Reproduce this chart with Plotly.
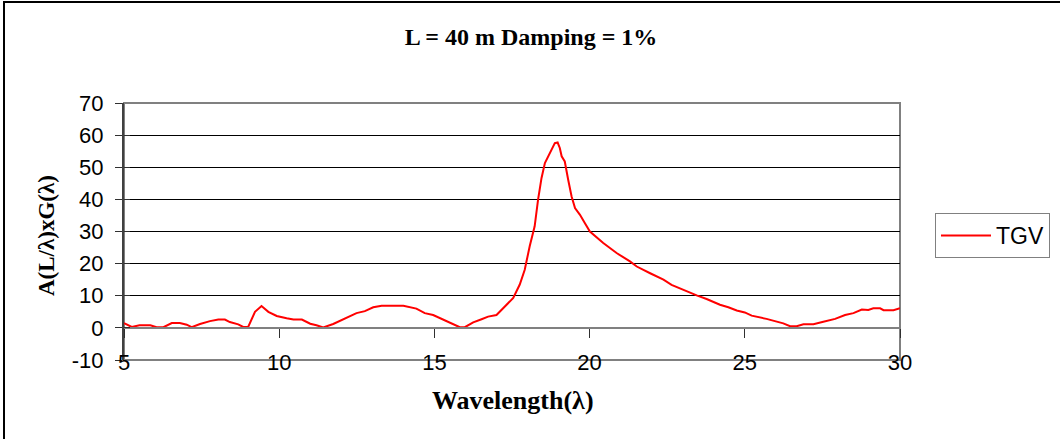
import plotly.graph_objects as go

wavelength = [5.0, 5.25, 5.5, 5.85, 6.05, 6.27, 6.54, 6.8, 7.02, 7.18, 7.45, 7.77, 8.04, 8.25, 8.41,
              8.68, 8.84, 9.0, 9.22, 9.43, 9.65, 9.92, 10.24, 10.46, 10.73, 11.0, 11.2, 11.42, 11.74,
              12.06, 12.49, 12.76, 13.03, 13.3, 14.0, 14.42, 14.69, 14.96, 15.28, 15.6, 15.82, 15.98,
              16.25, 16.52, 16.73, 17.0, 17.27, 17.54, 17.75, 17.91, 18.07, 18.23, 18.34, 18.45, 18.56,
              18.72, 18.88, 18.97, 19.04, 19.1, 19.2, 19.31, 19.42, 19.53, 19.69, 19.85, 20.01, 20.44,
              20.87, 21.3, 21.52, 21.95, 22.38, 22.64, 23.02, 23.45, 23.77, 24.2, 24.47, 24.74, 25.0,
              25.22, 25.7, 26.24, 26.46, 26.67, 26.89, 27.21, 27.53, 27.91, 28.23, 28.5, 28.77, 28.98,
              29.14, 29.36, 29.47, 29.79, 30.0]
tgv = [1.5, 0.3, 0.8, 0.8, 0.2, 0.2, 1.5, 1.5, 1.0, 0.2, 1.2, 2.1, 2.6, 2.6, 1.8,
       1.1, 0.3, 0.3, 5.0, 6.8, 5.0, 3.7, 3.0, 2.6, 2.6, 1.3, 0.8, 0.1, 1.2,
       2.7, 4.6, 5.2, 6.4, 6.9, 6.9, 6.0, 4.6, 4.0, 2.6, 1.3, 0.2, 0.2,
       1.7, 2.7, 3.5, 4.0, 6.7, 9.3, 13.5, 18.1, 25.4, 31.6, 39.9, 46.6, 51.3,
       54.4, 57.5, 57.7, 56.0, 53.4, 51.8, 46.1, 40.9, 37.3, 35.2, 32.6, 30.0, 26.4,
       23.3, 20.7, 19.1, 17.0, 15.0, 13.4, 11.8, 10.1, 9.0, 7.2, 6.4, 5.4, 4.8,
       3.8, 2.8, 1.4, 0.5, 0.5, 1.1, 1.1, 1.9, 2.8, 4.0, 4.6, 5.7, 5.6,
       6.1, 6.1, 5.5, 5.5, 6.1]

x_ticks = [5, 10, 15, 20, 25, 30]
y_ticks = [-10, 0, 10, 20, 30, 40, 50, 60, 70]
y_tick_labels = ["-10", "0", "10", "20", "30", "40", "50", "60", "70"]

title_text = "L = 40 m Damping = 1%"
x_title = "Wavelength(λ)"
y_title = "A(L/λ)xG(λ)"
series_name = "TGV"

SANS = "Liberation Sans, Arial, sans-serif"
SERIF = "Liberation Serif, Times New Roman, serif"

fig = go.Figure()
fig.add_trace(go.Scatter(x=wavelength, y=tgv, mode="lines", name=series_name,
                         line=dict(color="#FF0000", width=2)))
# invisible helper trace so the secondary axes (bottom tick labels, inner y ticks) are drawn
fig.add_trace(go.Scatter(x=[x_ticks[0], x_ticks[-1]], y=[y_ticks[0], y_ticks[-1]], xaxis="x2", yaxis="y2",
                         mode="markers", marker=dict(opacity=0, size=1),
                         showlegend=False, hoverinfo="skip"))

fig.update_layout(
    width=1060, height=439,
    margin=dict(l=124, r=160, t=103, b=79, autoexpand=False),
    paper_bgcolor="white", plot_bgcolor="white",
    title=dict(text="<b>" + title_text + "</b>", font=dict(family=SERIF, size=24, color="black"),
               x=531 / 1060, xref="container", y=1 - 37 / 439, yref="container",
               xanchor="center", yanchor="middle"),
    # main x axis: crosses at y = 0, with tick marks hanging below it
    xaxis=dict(range=[5, 30], tickvals=x_ticks, anchor="free", position=10 / 80,
               showgrid=False, zeroline=False, showline=True, linecolor="#808080", linewidth=2,
               ticks="outside", ticklen=9, tickcolor="#303030", tickwidth=1,
               showticklabels=False),
    # secondary x axis at the bottom: tick labels only
    xaxis2=dict(overlaying="x", matches="x", anchor="y", side="bottom",
                tickvals=x_ticks, ticktext=[str(v) for v in x_ticks],
                showgrid=False, zeroline=False, showline=False, ticks="",
                ticklabelstandoff=-13, tickfont=dict(family=SANS, size=22, color="black")),
    yaxis=dict(range=[-10, 70], tickvals=y_ticks, ticktext=y_tick_labels,
               showgrid=True, gridcolor="black", gridwidth=1, zeroline=False,
               showline=True, linecolor="#404040", linewidth=2,
               ticks="outside", ticklen=7, tickcolor="#303030", ticklabelstandoff=7,
               tickfont=dict(family=SANS, size=22, color="black")),
    # inner half of the crossing y tick marks
    yaxis2=dict(overlaying="y", matches="y", anchor="x2", side="left",
                tickvals=y_ticks, ticks="inside", ticklen=6, tickcolor="#303030", tickwidth=1,
                showticklabels=False, showgrid=False, zeroline=False, showline=False),
    legend=dict(x=(935 - 124) / 776, y=(360 - 213) / 257, xanchor="left", yanchor="top",
                bordercolor="#808080", borderwidth=1, itemwidth=50,
                font=dict(family=SANS, size=23, color="black"), bgcolor="white"),
    showlegend=True,
    annotations=[
        dict(text="<b>" + x_title + "</b>", xref="paper", yref="paper", x=(513 - 124) / 776,
             y=(360 - 401) / 257, xanchor="center", yanchor="middle", showarrow=False,
             font=dict(family=SERIF, size=26, color="black")),
        dict(text="<b>" + y_title + "</b>", xref="paper", yref="paper", x=(47 - 124) / 776,
             y=(360 - 236) / 257, xanchor="center", yanchor="middle", textangle=-90, showarrow=False,
             font=dict(family=SERIF, size=23, color="black")),
    ],
    shapes=[
        # plot-area border in gray
        dict(type="rect", xref="paper", yref="paper", x0=0, x1=1, y0=0, y1=1,
             line=dict(color="#808080", width=2), layer="below"),
        # outer chart frame (left and top edges)
        dict(type="line", xref="paper", yref="paper", x0=(4 - 124) / 776, x1=(4 - 124) / 776,
             y0=(360 - 439) / 257, y1=(360 - 1) / 257, line=dict(color="black", width=2)),
        dict(type="line", xref="paper", yref="paper", x0=(3 - 124) / 776, x1=(1060 - 124) / 776,
             y0=(360 - 2) / 257, y1=(360 - 2) / 257, line=dict(color="black", width=2)),
    ],
)

fig.write_html("out.html")
